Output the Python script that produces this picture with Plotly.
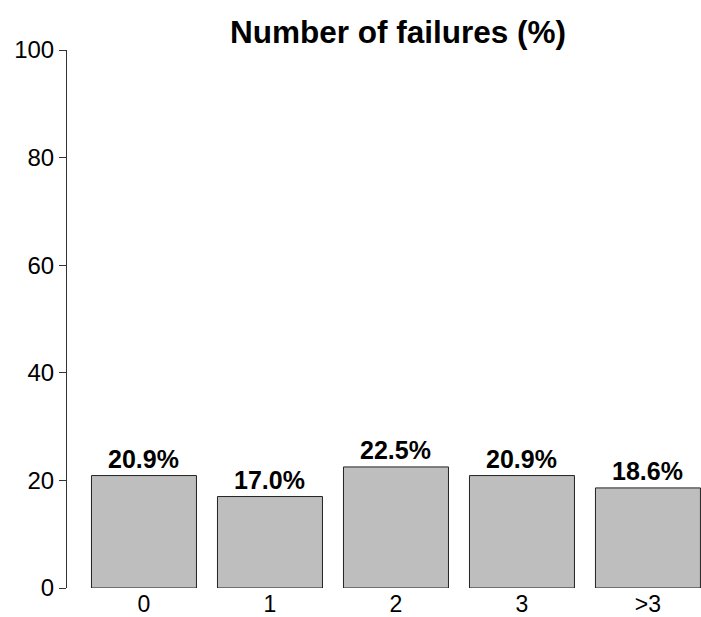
import plotly.graph_objects as go

categories = ["0", "1", "2", "3", ">3"]
values = [20.9, 17.0, 22.5, 20.9, 18.6]
y_ticks = [0, 20, 40, 60, 80, 100]
title_text = "Number of failures (%)"

FONT = "Liberation Sans, Arial, Helvetica, sans-serif"

W, H = 701, 617
L, R, T, B = 67, 0, 50, 29
plot_w = W - L - R
plot_h = H - T - B

fig = go.Figure()
fig.add_trace(go.Bar(
    x=categories,
    y=values,
    width=1 / 1.2,
    marker=dict(color="#BEBEBE", line=dict(color="#222222", width=1)),
    hoverinfo="skip",
))

annotations = []
for c, v in zip(categories, values):
    annotations.append(dict(
        x=c, y=v, xref="x", yref="y",
        text=f"<b>{v:.1f}%</b>",
        showarrow=False, yanchor="bottom", yshift=1,
        font=dict(family=FONT, size=25, color="#000000"),
    ))
annotations.append(dict(
    x=(398 - L) / plot_w, y=(H - B - 32) / plot_h, xref="paper", yref="paper",
    text=f"<b>{title_text}</b>", showarrow=False,
    xanchor="center", yanchor="middle",
    font=dict(family=FONT, size=31.5, color="#000000"),
))

fig.update_layout(
    width=W, height=H,
    margin=dict(l=L, r=R, t=T, b=B, autoexpand=False),
    paper_bgcolor="white", plot_bgcolor="white",
    showlegend=False,
    annotations=annotations,
    font=dict(family=FONT, size=24, color="#000000"),
)
fig.update_xaxes(
    type="category",
    range=[-0.611, 4.421],
    automargin=False,
    showline=False, showgrid=False, zeroline=False,
    ticks="", ticklabelstandoff=0,
    tickfont=dict(family=FONT, size=23, color="#000000"),
)
fig.update_yaxes(
    range=[0, 100],
    automargin=False,
    tickvals=y_ticks,
    ticktext=[str(t) for t in y_ticks],
    showline=True, linecolor="#333333", linewidth=1,
    ticks="outside", ticklen=7, tickcolor="#333333", tickwidth=1,
    showgrid=False, zeroline=False,
    tickfont=dict(family=FONT, size=24, color="#000000"),
)

fig.write_html(
    "out.html",
    config={"displayModeBar": False},
    post_script="document.body.style.margin='0';document.body.style.overflow='hidden';",
)
